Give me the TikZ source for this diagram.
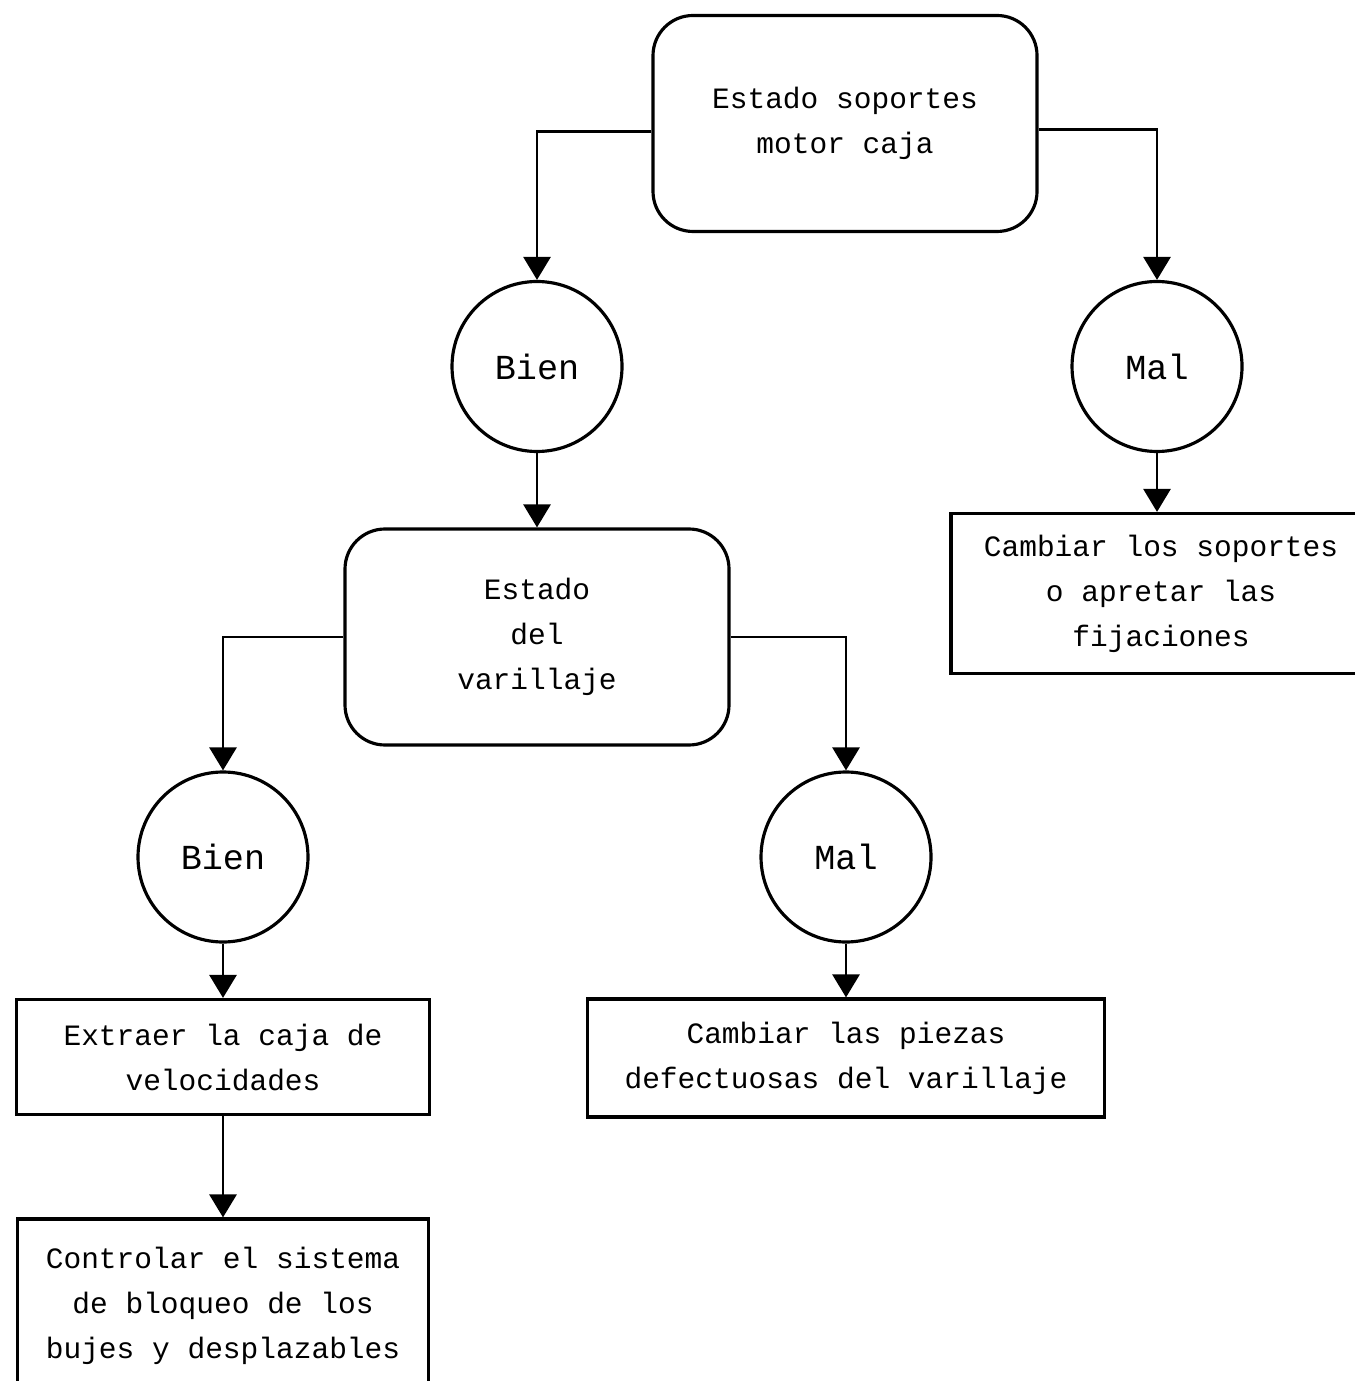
\documentclass[tikz,border=0pt]{standalone}
\usepackage{fontspec}
\setmonofont{Liberation Mono}
\usetikzlibrary{arrows.meta}

\begin{document}
\begin{tikzpicture}
  \tikzset {
    state/.style={
      rectangle,
      rounded corners=0.4cm,
      draw=black,
      line width=0.9pt,
      minimum width=3.84cm,
      minimum height=2.16cm,
      align=center,
      font=\ttfamily\fontsize{8.4}{12.8}\selectfont
    },
    answer/.style={
      circle,
      draw=black,
      line width=0.9pt,
      minimum size=1.7cm,
      inner sep=0pt,
      font=\ttfamily\fontsize{10}{12}\selectfont
    },
    action/.style={
      rectangle,
      draw=black,
      line width=0.9pt,
      align=center,
      font=\ttfamily\fontsize{8.4}{12.8}\selectfont
    },
    arrow/.style={
      -{Triangle[width=2.7mm,length=2.3mm]},
      line width=0.8pt
    }
  }
  \useasboundingbox (0,0) rectangle (13.55,-13.81);
  \clip (0,0) rectangle (13.55,-13.81);

  \node[state](soportes) at (8.45,-1.235) {Estado soportes\\motor caja};
  \node[answer, below of=soportes, node distance=2.43cm, xshift=-3.08cm](bien) {Bien};
  \node[answer, below of=soportes, node distance=2.43cm, xshift=3.12cm](mal) {Mal};
  \node[action, below of=mal, node distance=2.27cm, xshift=0.04cm,
        minimum width=4.2cm, minimum height=1.6cm](cambiar) {Cambiar los soportes\\o apretar las\\fijaciones};

  \node[state, below of=bien, node distance=2.705cm](varillaje) {Estado\\del\\varillaje};
  \node[answer, below of=varillaje, node distance=2.2cm, xshift=-3.14cm](bienvar) {Bien};
  \node[answer, below of=varillaje, node distance=2.2cm, xshift=3.09cm](malvar) {Mal};
  \node[action, below of=bienvar, node distance=2.0cm,
        minimum width=4.13cm, minimum height=1.15cm](extraer) {Extraer la caja de\\velocidades};
  \node[action, below of=malvar, node distance=2.01cm,
        minimum width=5.17cm, minimum height=1.18cm](piezas) {Cambiar las piezas\\defectuosas del varillaje};
  \node[action, below of=extraer, node distance=2.49cm,
        minimum width=4.11cm, minimum height=1.74cm](controlar) {Controlar el sistema\\de bloqueo de los\\bujes y desplazables};

  \draw[arrow] ([yshift=-0.08cm]soportes.west) -| (bien);
  \draw[arrow] ([yshift=-0.06cm]soportes.east) -| (mal);
  \path (mal) edge[arrow] (cambiar.north -| mal.south);
  \path (bien) edge[arrow] (varillaje);
  \draw[arrow] (varillaje.west) -| (bienvar);
  \draw[arrow] (varillaje.east) -| (malvar);
  \path (bienvar) edge[arrow] (extraer);
  \path (malvar) edge[arrow] (piezas);
  \path (extraer) edge[arrow] (controlar);

\end{tikzpicture}
\end{document}
